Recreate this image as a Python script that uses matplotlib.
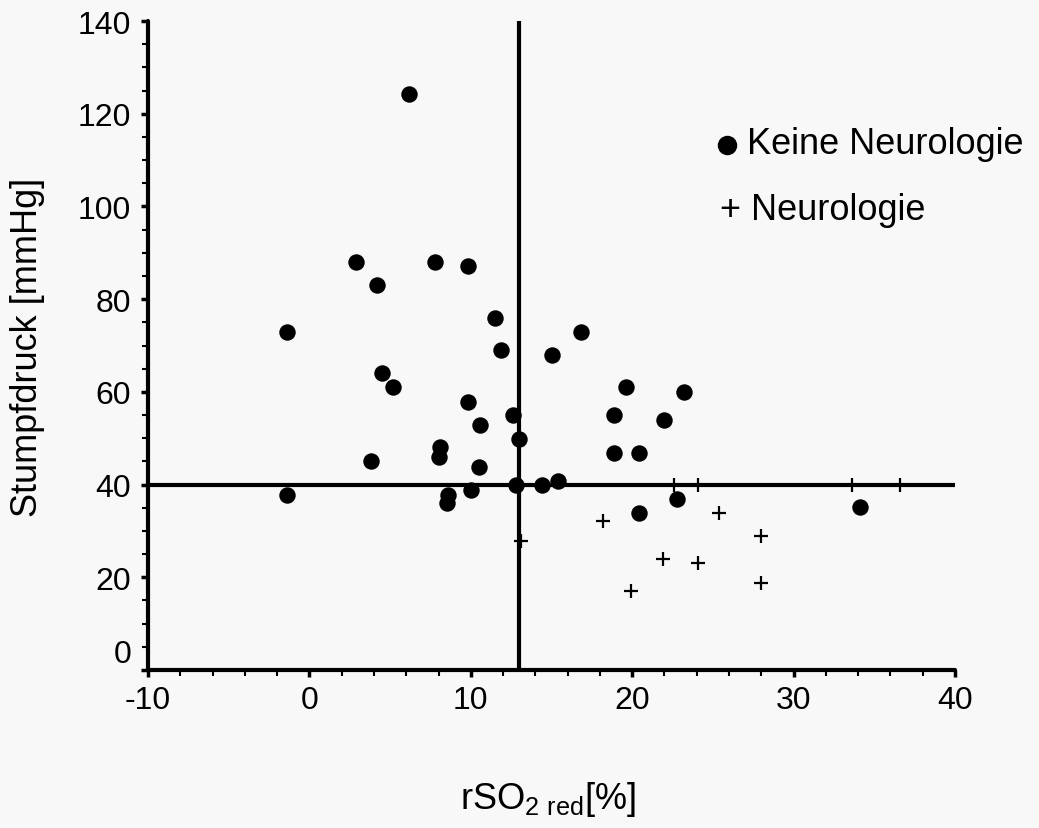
import matplotlib
matplotlib.use("Agg")
import matplotlib.pyplot as plt
import matplotlib.transforms as mtransforms
from matplotlib.lines import Line2D
from matplotlib.ticker import MultipleLocator

plt.rcParams['font.family'] = ['Liberation Sans', 'DejaVu Sans']
plt.rcParams['mathtext.fontset'] = 'custom'
plt.rcParams['mathtext.rm'] = 'Liberation Sans'
plt.rcParams['axes.unicode_minus'] = False

# Patients without neurological deficit
keine_x = [-1.4, -1.4, 2.9, 4.2, 4.5, 5.2, 3.8, 6.2, 7.8, 9.8, 8.1, 8.0, 8.6, 8.5,
           9.8, 10.6, 10.5, 10.0, 11.5, 11.9, 12.6, 13.0, 12.8, 14.4, 15.4, 15.0,
           16.8, 19.6, 18.9, 18.9, 20.4, 22.0, 23.2, 20.4, 22.8, 34.1]
keine_y = [73, 37.7, 88, 83, 64, 61, 45, 124.2, 88, 87.2, 48, 46, 37.7, 36,
           57.9, 52.8, 43.8, 38.9, 76, 69, 55, 49.8, 40, 40, 40.8, 68,
           73, 61, 55, 46.8, 46.8, 54, 60, 33.9, 36.8, 35.2]

# Patients with neurological deficit
neuro_x = [18.2, 25.4, 28.0, 21.9, 24.1, 28.0, 19.9, 13.1, 22.6, 24.1, 33.6, 36.6]
neuro_y = [32.1, 33.9, 29.0, 24.0, 23.1, 18.8, 17.0, 27.9, 40, 40, 40, 40]

# Cut-off values
rso2_cut = 13
druck_cut = 40

x_ticks = [-10, 0, 10, 20, 30, 40]
y_ticks = [0, 20, 40, 60, 80, 100, 120, 140]

bg = '#f8f8f8'
fig = plt.figure(figsize=(10.39, 8.29), dpi=100, facecolor=bg)
ax = fig.add_axes([148/1039, 1-671/829, (955-148)/1039, (671-22)/829], facecolor=bg)

ax.set_xlim(-10, 40)
ax.set_ylim(0, 140)

ax.axvline(rso2_cut, color='black', lw=3, zorder=2)
ax.axhline(druck_cut, color='black', lw=3, zorder=2)

ax.scatter(keine_x, keine_y, s=140, color='black', marker='o', zorder=3, linewidths=0)
ax.scatter(neuro_x, neuro_y, s=110, color='black', marker='+', zorder=3, linewidths=1.6)

for side in ['top', 'right']:
    ax.spines[side].set_visible(False)
for side in ['left', 'bottom']:
    ax.spines[side].set_linewidth(3)
    ax.spines[side].set_capstyle('round')

ax.set_xticks(x_ticks)
ax.set_xticklabels([str(v) for v in x_ticks])
ax.set_yticks(y_ticks)
ax.set_yticklabels([str(v) for v in y_ticks])
ax.xaxis.set_minor_locator(MultipleLocator(2))
ax.yaxis.set_minor_locator(MultipleLocator(5))
ax.tick_params(which='major', length=5, width=2.5, direction='out', labelsize=23)
ax.tick_params(which='minor', length=4, width=1.5, direction='out')
ax.tick_params(axis='y', which='major', pad=7)
ax.tick_params(axis='x', which='major', pad=6)

# lift the zero label of the y axis clear of the corner
zero_lbl = ax.get_yticklabels()[0]
zero_lbl.set_transform(zero_lbl.get_transform() +
                       mtransforms.ScaledTranslation(0, 14/72, fig.dpi_scale_trans))

fig.text(28/1039, 1-347/829, 'Stumpfdruck [mmHg]', fontsize=26, rotation=90,
         ha='center', va='center')
fig.text(548/1039, 1-800/829, r'rSO$_{\mathregular{2\ red}}$[%]', fontsize=26,
         ha='center', va='center')

# Legend entries
fig.add_artist(Line2D([727/1039], [1-146/829], marker='o', markersize=13,
                      color='black', linestyle='none', transform=fig.transFigure))
fig.text(747/1039, 1-145/829, 'Keine Neurologie', fontsize=26, ha='left', va='center')
fig.text(720/1039, 1-210/829, '+ Neurologie', fontsize=26, ha='left', va='center')

fig.savefig('out.png', dpi=100, facecolor=bg)
